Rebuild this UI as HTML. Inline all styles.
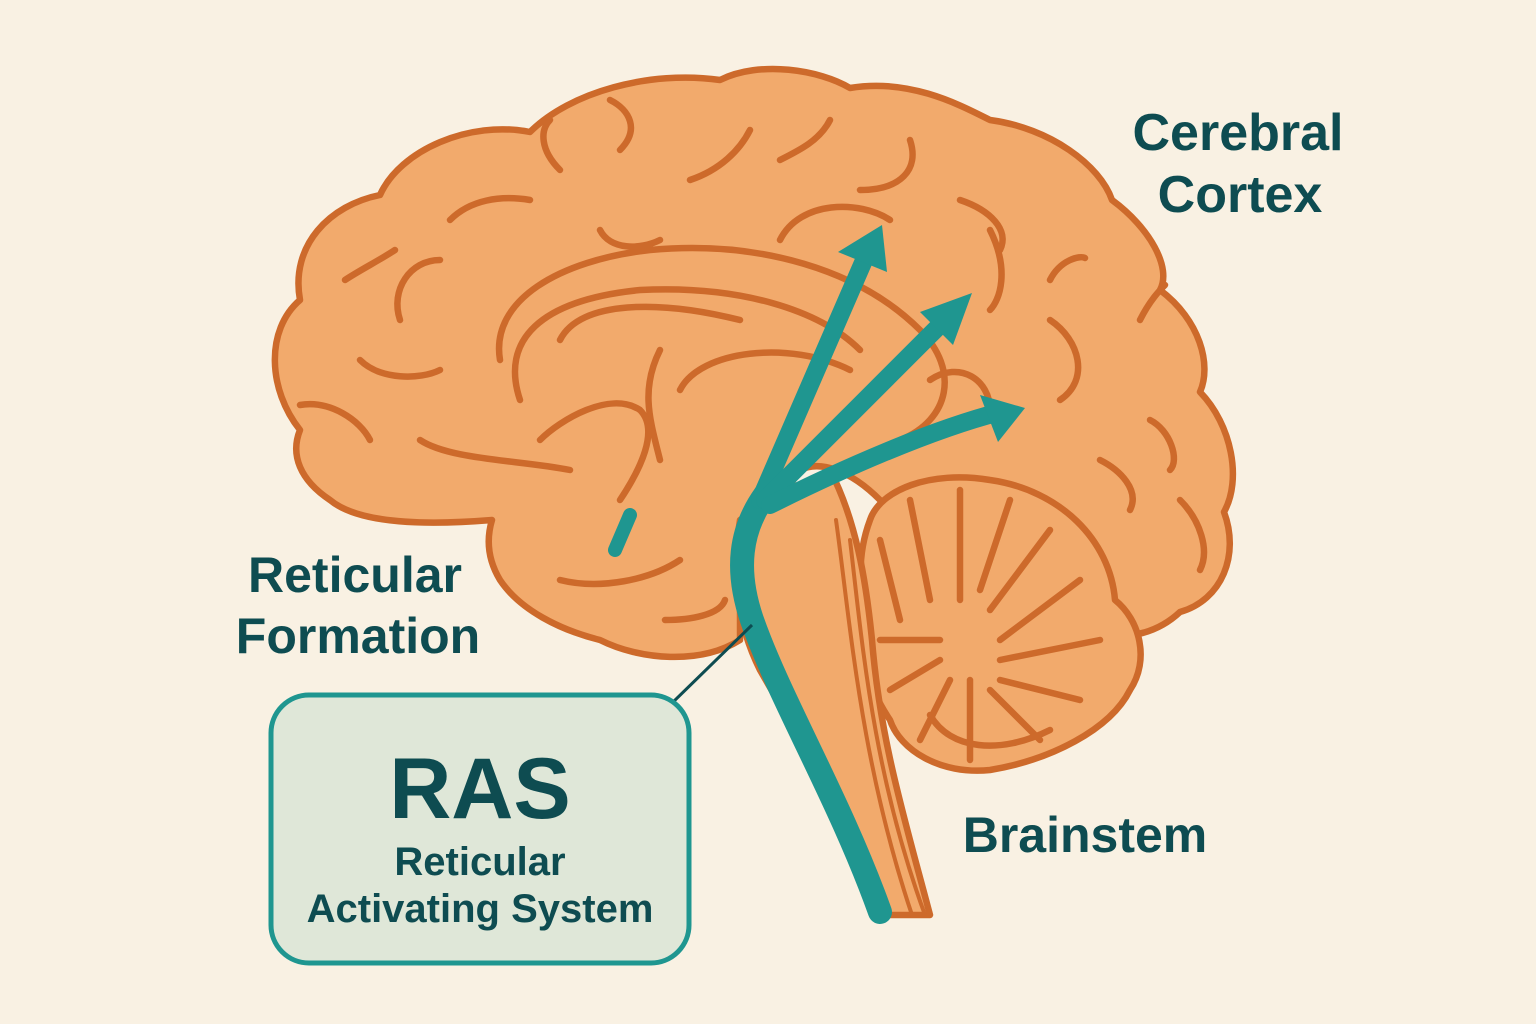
<!DOCTYPE html>
<html><head><meta charset="utf-8"><style>
html,body{margin:0;padding:0;background:#f9f1e3;}
svg{display:block}
text{font-family:"Liberation Sans",sans-serif;font-weight:bold;fill:#0e4c51}
</style></head><body>
<svg width="1536" height="1024" viewBox="0 0 1536 1024">
<rect width="1536" height="1024" fill="#f9f1e3"/>
<g stroke="#cd6a2b" stroke-width="6.5" fill="#f2aa6c" stroke-linecap="round" stroke-linejoin="round">
<!-- cerebrum -->
<path d="M300,430 C268,390 265,330 300,300 C290,245 330,205 380,195 C400,150 470,120 530,132 C570,92 650,70 720,80 C760,60 820,70 850,88 C910,78 960,105 990,120 C1050,128 1100,165 1112,200 C1150,228 1172,268 1160,290 C1200,320 1212,365 1200,392 C1232,425 1242,480 1224,512 C1240,555 1222,600 1180,612 C1150,640 1110,640 1090,630 L880,500 C850,470 820,460 800,470 L740,560 L740,640 C700,665 640,660 600,640 C560,630 520,610 500,580 C488,560 486,540 492,520 C430,525 360,525 330,500 C300,480 290,455 300,430 Z"/>
<!-- cerebellum -->
<path d="M870,520 C880,490 930,470 990,480 C1060,490 1110,540 1115,600 C1140,620 1150,660 1130,690 C1110,730 1050,760 990,770 C940,775 900,750 890,720 C870,690 860,660 870,630 C860,600 855,560 870,520 Z"/>
<!-- brainstem -->
<path d="M740,520 C730,580 740,630 760,670 C800,740 850,820 875,915 L930,915 C905,820 880,740 872,640 C866,580 856,520 830,470 Z"/>
<g fill="none">
<path d="M500,360 C490,300 560,260 650,250 C760,240 860,270 920,330 C960,370 950,420 900,440"/>
<path d="M520,400 C500,340 540,300 640,290 C740,285 820,310 860,350"/>
<path d="M560,340 C580,300 660,300 740,320"/>
<path d="M660,350 C640,390 650,420 660,460"/>
<path d="M680,390 C700,350 790,340 850,370"/>
<path d="M620,500 C640,470 660,430 640,410 C610,390 560,420 540,440"/>
<path d="M560,580 C600,590 650,580 680,560"/>
<path d="M665,620 C690,620 720,615 725,600"/>
<path d="M300,405 C330,400 360,420 370,440"/>
<path d="M360,360 C380,380 420,380 440,370"/>
<path d="M400,320 C390,290 410,260 440,260"/>
<path d="M420,440 C450,460 520,460 570,470"/>
<path d="M345,280 C360,270 380,260 395,250"/>
<path d="M450,220 C470,200 500,195 530,200"/>
<path d="M560,170 C540,150 540,130 550,120"/>
<path d="M620,150 C640,130 630,110 610,100"/>
<path d="M690,180 C720,170 740,150 750,130"/>
<path d="M780,160 C800,150 820,140 830,120"/>
<path d="M860,190 C900,190 920,170 910,140"/>
<path d="M960,200 C990,210 1010,230 1000,250"/>
<path d="M1050,280 C1060,260 1080,255 1085,258"/>
<path d="M1050,320 C1080,340 1090,380 1060,400"/>
<path d="M1100,460 C1120,470 1140,490 1130,510"/>
<path d="M1140,320 C1150,300 1160,290 1165,285"/>
<path d="M1150,420 C1170,430 1180,460 1170,470"/>
<path d="M1180,500 C1200,520 1210,550 1200,570"/>
<path d="M930,380 C960,360 990,380 990,410"/>
<path d="M780,240 C800,200 860,200 890,220"/>
<path d="M990,230 C1010,270 1000,300 990,310"/>
<path d="M600,230 C610,250 640,250 660,240"/>
<path d="M880,540 L900,620 M910,500 L930,600 M960,490 L960,600 M1010,500 L980,590 M1050,530 L990,610 M1080,580 L1000,640 M1100,640 L1000,660 M1080,700 L1000,680 M1040,740 L990,690 M970,760 L970,680 M920,740 L950,680 M890,690 L940,660 M880,640 L940,640"/>
<path d="M930,715 C950,750 1000,755 1050,730"/>
<path d="M836,520 C850,620 860,760 912,915" stroke-width="4"/>
<path d="M850,540 C862,640 872,770 925,915" stroke-width="4"/>
</g>
</g>
<!-- RAS teal -->
<g stroke="#1f9690" stroke-linecap="round" fill="none">
<path d="M880,912 C840,800 780,700 752,620 C735,570 740,530 765,495" stroke-width="24"/>
<path d="M760,500 L865,258" stroke-width="18"/>
<path d="M765,500 L945,320" stroke-width="18"/>
<path d="M770,505 C840,470 930,430 1000,412" stroke-width="18"/>
<path d="M630,515 L615,550" stroke-width="14"/>
</g>
<g fill="#1f9690">
<polygon points="882,225 838,252 887,272"/>
<polygon points="972,293 920,312 953,345"/>
<polygon points="1025,408 980,395 998,442"/>
</g>
<line x1="752" y1="625" x2="670" y2="705" stroke="#0e4c51" stroke-width="3"/>
<rect x="271" y="695" width="418" height="268" rx="38" fill="#dfe7d8" stroke="#1f9690" stroke-width="5"/>
<text x="480" y="818" font-size="86" text-anchor="middle">RAS</text>
<text x="480" y="875" font-size="40" text-anchor="middle">Reticular</text>
<text x="480" y="922" font-size="40" text-anchor="middle">Activating System</text>
<text x="355" y="592" font-size="50" text-anchor="middle">Reticular</text>
<text x="358" y="653" font-size="50" text-anchor="middle">Formation</text>
<text x="1238" y="150" font-size="52" text-anchor="middle">Cerebral</text>
<text x="1240" y="212" font-size="52" text-anchor="middle">Cortex</text>
<text x="1085" y="852" font-size="50" text-anchor="middle">Brainstem</text>
</svg>
</body></html>
